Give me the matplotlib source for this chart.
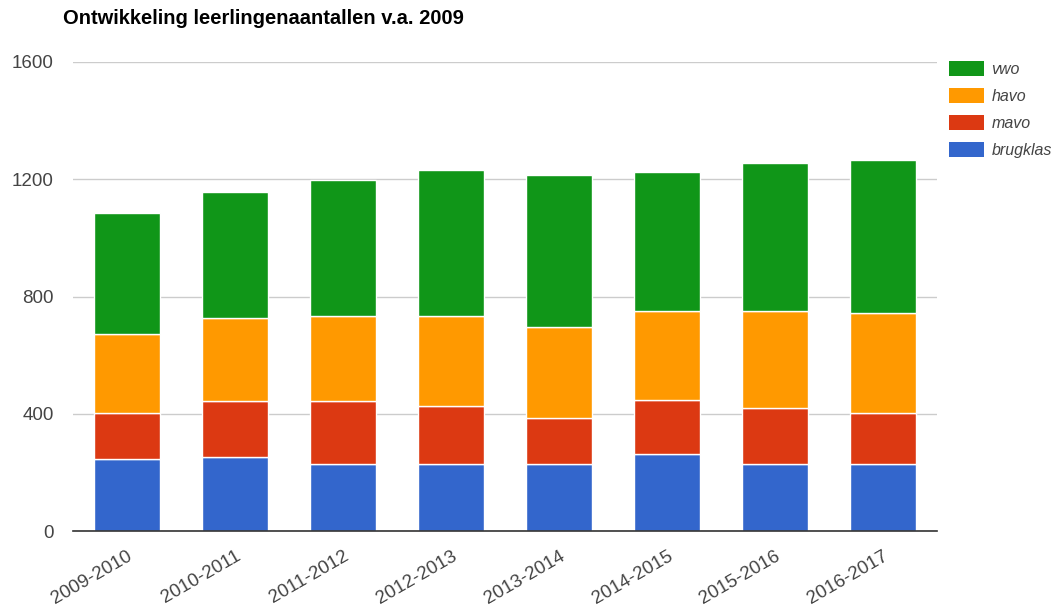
import matplotlib
matplotlib.use("Agg")
import matplotlib.pyplot as plt
import numpy as np
from matplotlib.patches import Patch

plt.rcParams['font.family'] = ['Liberation Sans', 'DejaVu Sans']

years = ["2009-2010", "2010-2011", "2011-2012", "2012-2013",
         "2013-2014", "2014-2015", "2015-2016", "2016-2017"]
brugklas = [247, 252, 228, 228, 228, 261, 228, 228]
mavo = [155, 191, 215, 199, 159, 186, 193, 175]
havo = [271, 282, 292, 308, 310, 302, 328, 342]
vwo = [412, 432, 464, 496, 519, 476, 505, 519]
yticks = [0, 400, 800, 1200, 1600]

series = [("brugklas", brugklas, "#3366cc"),
          ("mavo", mavo, "#dc3912"),
          ("havo", havo, "#ff9900"),
          ("vwo", vwo, "#109618")]

fig = plt.figure(figsize=(10.59, 6.12), dpi=100)
ax = fig.add_axes([73/1059, 1-531/612, (937-73)/1059, (531-62)/612])

x = np.arange(len(years))
bottom = np.zeros(len(years))
for name, vals, col in series:
    ax.bar(x, vals, bottom=bottom, width=0.61, color=col,
           edgecolor="white", linewidth=1.0, zorder=3)
    bottom += np.array(vals)

ax.set_xlim(-0.5, len(years) - 0.5)
ax.set_ylim(0, 1600)
ax.set_yticks(yticks)
ax.set_yticklabels([str(v) for v in yticks])
ax.yaxis.grid(True, color="#cccccc", linewidth=1, zorder=0)
ax.set_axisbelow(True)
for s in ["top", "right", "left"]:
    ax.spines[s].set_visible(False)
ax.spines["bottom"].set_color("#333333")
ax.spines["bottom"].set_linewidth(1.2)
ax.spines["bottom"].set_zorder(5)
ax.tick_params(axis="y", length=0, pad=14, labelsize=13.5, labelcolor="#444444")
ax.tick_params(axis="x", length=0, pad=12, labelsize=13.5, labelcolor="#444444")
ax.set_xticks(x)
ax.set_xticklabels(years, rotation=30, ha="right", rotation_mode="anchor")

fig.text(63/1059, 1-19/612, "Ontwikkeling leerlingenaantallen v.a. 2009",
         fontsize=14.5, fontweight="bold", color="#000000", va="center", ha="left")

handles = [Patch(facecolor=col, edgecolor="none", label=name)
           for name, vals, col in reversed(series)]
leg = fig.legend(handles=handles, loc="upper left",
                 bbox_to_anchor=(949/1059, 1-61/612), frameon=False,
                 fontsize=11.5, handlelength=2.2, handleheight=1.05,
                 labelspacing=0.7, handletextpad=0.45, borderaxespad=0,
                 borderpad=0)
for t in leg.get_texts():
    t.set_fontstyle("italic")
    t.set_color("#444444")

fig.savefig("out.png", dpi=100)
